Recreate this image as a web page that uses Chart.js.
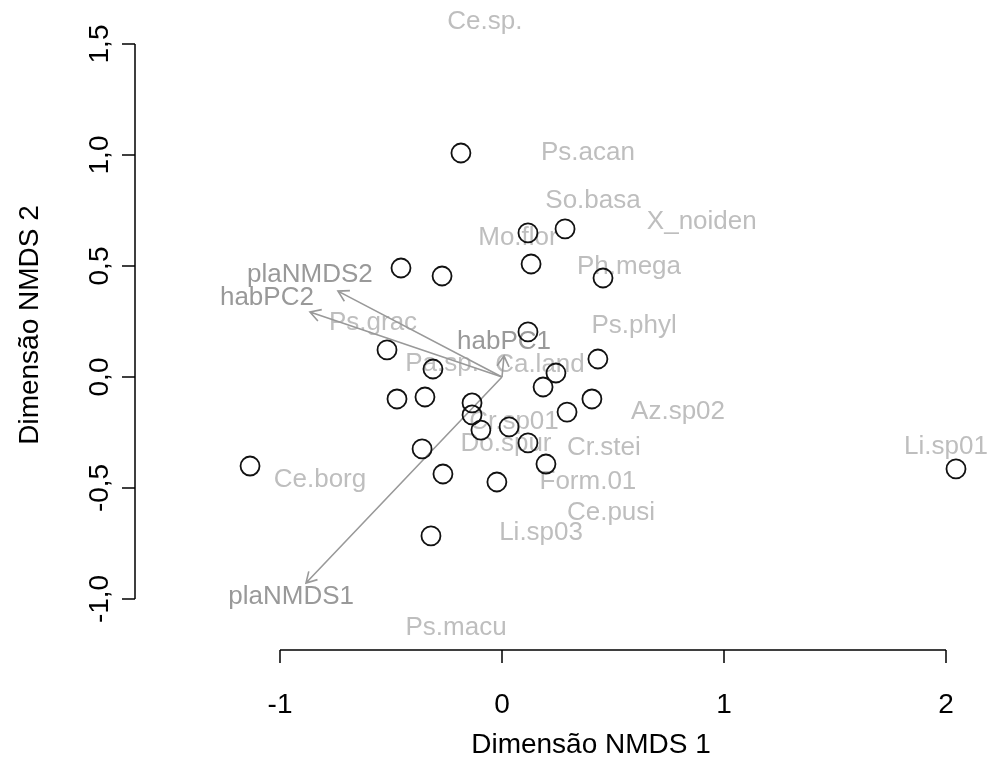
<!DOCTYPE html>
<html>
<head>
<meta charset="utf-8">
<script src="https://cdn.jsdelivr.net/npm/chart.js@4"></script>
<style>
  html, body { margin: 0; padding: 0; background: #fff; }
  #nmds { display: block; }
</style>
</head>
<body>
<canvas id="nmds" width="988" height="776"></canvas>
<script>
// site scores (open circles)
const siteX = [-0.185, 0.117, 0.284, 0.131, -0.455, -0.270, 0.455, 0.117, -0.518, -0.311,
  0.432, 0.243, 0.185, -0.473, -0.347, -0.135, -0.135, -0.095, 0.032, 0.117,
  0.293, 0.405, -0.360, 0.198, -0.266, -0.023, -0.320, -1.135, 2.045];
const siteY = [1.009, 0.649, 0.667, 0.509, 0.491, 0.455, 0.446, 0.203, 0.122, 0.036,
  0.081, 0.018, -0.045, -0.099, -0.090, -0.117, -0.171, -0.239, -0.225, -0.297,
  -0.158, -0.099, -0.324, -0.392, -0.437, -0.473, -0.716, -0.401, -0.414];

// species scores (light grey labels)
const speciesNames = ['Ce.sp.', 'Ps.acan', 'So.basa', 'X_noiden', 'Mo.flor', 'Ph.mega', 'Ps.grac',
  'Ps.phyl', 'Pa.sp.', 'Ca.land', 'Az.sp02', 'Cr.sp01', 'Do.spur', 'Cr.stei', 'Li.sp01',
  'Ce.borg', 'Form.01', 'Ce.pusi', 'Li.sp03', 'Ps.macu'];
const speciesX = [-0.077, 0.387, 0.410, 0.900, 0.072, 0.572, -0.581,
  0.595, -0.270, 0.171, 0.793, 0.054, 0.018, 0.459, 2.000,
  -0.820, 0.387, 0.491, 0.176, -0.207];
const speciesY = [1.599, 1.009, 0.793, 0.698, 0.626, 0.495, 0.243,
  0.230, 0.059, 0.054, -0.158, -0.203, -0.302, -0.320, -0.315,
  -0.464, -0.473, -0.613, -0.703, -1.131];

// fitted vectors (arrow tips and label positions)
const vectorNames = ['plaNMDS2', 'habPC2', 'habPC1', 'plaNMDS1'];
const vectorX = [-0.739, -0.865, 0.009, -0.883];
const vectorY = [0.387, 0.293, 0.095, -0.928];
const vectorLabelX = [-0.865, -1.059, 0.009, -0.950];
const vectorLabelY = [0.459, 0.356, 0.158, -0.991];

const xTicks = [-1, 0, 1, 2];
const xTickLabels = ['-1', '0', '1', '2'];
const yTicks = [-1, -0.5, 0, 0.5, 1, 1.5];
const yTickLabels = ['-1,0', '-0,5', '0,0', '0,5', '1,0', '1,5'];

const FONT = '"Liberation Sans", Arial, Helvetica, sans-serif';

const ordiPlot = {
  id: 'ordiPlot',
  beforeDatasetsDraw(chart) {
    const ctx = chart.ctx;
    const xs = chart.scales.x, ys = chart.scales.y;
    ctx.save();
    ctx.textAlign = 'center';
    ctx.textBaseline = 'middle';

    // species
    ctx.font = '26px ' + FONT;
    ctx.fillStyle = '#bebebe';
    speciesNames.forEach((n, i) => {
      ctx.fillText(n, xs.getPixelForValue(speciesX[i]), ys.getPixelForValue(speciesY[i]));
    });

    // arrows
    const ox = xs.getPixelForValue(0), oy = ys.getPixelForValue(0);
    ctx.strokeStyle = '#999999';
    ctx.lineWidth = 1.6;
    vectorNames.forEach((n, i) => {
      const tx = xs.getPixelForValue(vectorX[i]), ty = ys.getPixelForValue(vectorY[i]);
      const a = Math.atan2(ty - oy, tx - ox);
      const h = 12;
      ctx.beginPath();
      ctx.moveTo(ox, oy);
      ctx.lineTo(tx, ty);
      ctx.moveTo(tx - h * Math.cos(a - Math.PI / 6), ty - h * Math.sin(a - Math.PI / 6));
      ctx.lineTo(tx, ty);
      ctx.lineTo(tx - h * Math.cos(a + Math.PI / 6), ty - h * Math.sin(a + Math.PI / 6));
      ctx.stroke();
    });

    ctx.fillStyle = '#999999';
    vectorNames.forEach((n, i) => {
      ctx.fillText(n, xs.getPixelForValue(vectorLabelX[i]), ys.getPixelForValue(vectorLabelY[i]));
    });
    ctx.restore();
  },
  afterDraw(chart) {
    const ctx = chart.ctx;
    const xs = chart.scales.x, ys = chart.scales.y;
    const area = chart.chartArea;
    const tick = 13;
    ctx.save();
    ctx.strokeStyle = '#000';
    ctx.fillStyle = '#000';
    ctx.lineWidth = 1.5;
    ctx.font = '28px ' + FONT;
    ctx.textAlign = 'center';
    ctx.textBaseline = 'middle';

    // bottom axis
    const by = area.bottom;
    ctx.beginPath();
    ctx.moveTo(xs.getPixelForValue(xTicks[0]), by);
    ctx.lineTo(xs.getPixelForValue(xTicks[xTicks.length - 1]), by);
    xTicks.forEach(v => {
      const p = xs.getPixelForValue(v);
      ctx.moveTo(p, by);
      ctx.lineTo(p, by + tick);
    });
    ctx.stroke();
    xTicks.forEach((v, i) => ctx.fillText(xTickLabels[i], xs.getPixelForValue(v), 705));
    ctx.fillText('Dimensão NMDS 1', 591, 745);

    // left axis
    const lx = area.left;
    ctx.beginPath();
    ctx.moveTo(lx, ys.getPixelForValue(yTicks[0]));
    ctx.lineTo(lx, ys.getPixelForValue(yTicks[yTicks.length - 1]));
    yTicks.forEach(v => {
      const p = ys.getPixelForValue(v);
      ctx.moveTo(lx, p);
      ctx.lineTo(lx - tick, p);
    });
    ctx.stroke();
    yTicks.forEach((v, i) => {
      ctx.save();
      ctx.translate(100, ys.getPixelForValue(v));
      ctx.rotate(-Math.PI / 2);
      ctx.fillText(yTickLabels[i], 0, 0);
      ctx.restore();
    });
    ctx.save();
    ctx.translate(30, 325);
    ctx.rotate(-Math.PI / 2);
    ctx.fillText('Dimensão NMDS 2', 0, 0);
    ctx.restore();
    ctx.restore();
  }
};

const ctx = document.getElementById('nmds').getContext('2d');
new Chart(ctx, {
  type: 'scatter',
  data: {
    datasets: [{
      label: 'sites',
      data: siteX.map((x, i) => ({ x: x, y: siteY[i] })),
      pointStyle: 'circle',
      pointRadius: 9.5,
      pointBorderWidth: 1.8,
      borderColor: '#111111',
      backgroundColor: 'rgba(0,0,0,0)'
    }]
  },
  options: {
    responsive: false,
    animation: false,
    layout: { padding: { left: 135, right: 14, top: 14, bottom: 126 } },
    plugins: { legend: { display: false }, tooltip: { enabled: false } },
    scales: {
      x: { type: 'linear', display: false, min: (135 - 502) / 222, max: (974 - 502) / 222 },
      y: { type: 'linear', display: false, min: (377 - 650) / 222, max: (377 - 14) / 222 }
    }
  },
  plugins: [ordiPlot]
});
</script>
</body>
</html>
